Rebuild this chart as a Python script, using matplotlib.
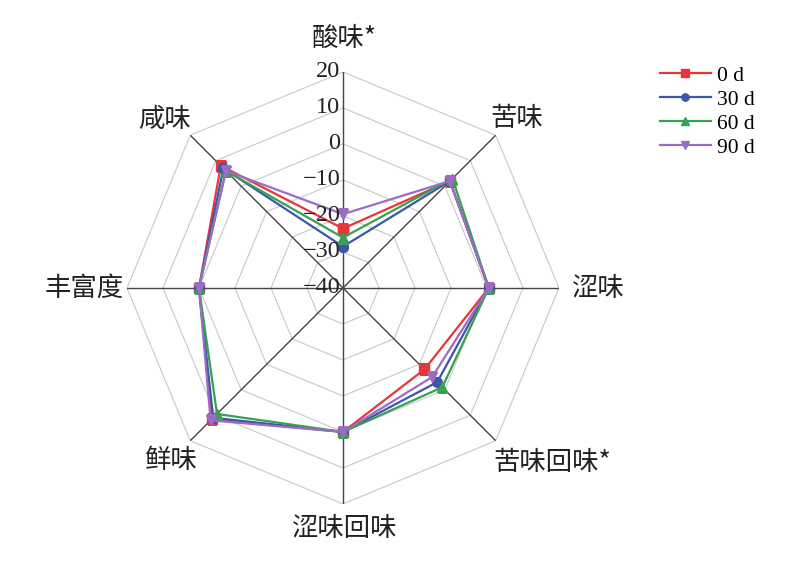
import numpy as np
import matplotlib
matplotlib.use('Agg')
import matplotlib.pyplot as plt

# 滋味指标 (clockwise from top)
categories = ['酸味*', '苦味', '涩味', '苦味回味*', '涩味回味', '鲜味', '丰富度', '咸味']
series_names = ['0 d', '30 d', '60 d', '90 d']

day0 = [-23.5, 2, 0.5, -8, 0, 11.5, 0, 8]
day30 = [-28.5, 2, 0.5, -3, 0, 11, 0, 7]
day60 = [-26, 3, 0.5, -1, 0, 9.5, 0, 6]
day90 = [-19.5, 2, 0.5, -5, 0, 12, 0, 6]

ticks = [-40, -30, -20, -10, 0, 10, 20]

colors = ['#e8353b', '#3a58a8', '#36a152', '#9b6cc6']
markers = ['s', 'o', '^', 'v']

cjk = ['Noto Sans CJK SC', 'DejaVu Sans']
num_font = 'Liberation Serif'

fig = plt.figure(figsize=(8, 5.7), dpi=100)
ax = fig.add_axes([0.15875, 0.1158, 0.54, 0.758], projection='polar')
ax.set_theta_zero_location('N')
ax.set_theta_direction(-1)
ax.set_ylim(ticks[0], ticks[-1])
ax.axis('off')

n = len(categories)
angles = np.linspace(0, 2 * np.pi, n, endpoint=False)
closed = np.append(angles, angles[0])

# octagon grid rings
for t in ticks[1:]:
    ax.plot(closed, [t] * (n + 1), color='#c8c8c8', lw=0.8, zorder=1)

# spokes
for a in angles:
    ax.plot([a, a], [ticks[0], ticks[-1]], color='#444444', lw=1.0, zorder=2)

# radial tick labels along the top spoke
for t in ticks:
    ax.annotate(f'{t}'.replace('-', '\u2212'), xy=(0, t), xytext=(-2, 0),
                textcoords='offset points', ha='right', va='center',
                fontsize=17.5, family=num_font, color='#222222', zorder=5)

for vals, name, c, m in zip([day0, day30, day60, day90], series_names, colors, markers):
    v = np.append(vals, vals[0])
    ax.plot(closed, v, color=c, lw=1.6, marker=m, markersize=7,
            label=name, zorder=3)

# category labels (pixel positions of label centres)
label_pos = [(344, 38), (517, 119), (598, 288), (552, 463),
             (345, 528), (170, 461), (84, 288), (164, 119)]
for lab, (px, py) in zip(categories, label_pos):
    fig.text(px / 800, 1 - py / 570, lab, ha='center', va='center',
             fontsize=19, family=cjk, color='#222222')

leg = fig.legend(loc='upper left', bbox_to_anchor=(651 / 800, 1 - 57 / 570),
                 frameon=False, handlelength=2.4, handletextpad=0.25,
                 labelspacing=0.18, borderaxespad=0, markerscale=0.75,
                 prop={'family': num_font, 'size': 15.5})

fig.savefig('out.png', dpi=100, facecolor='white')
